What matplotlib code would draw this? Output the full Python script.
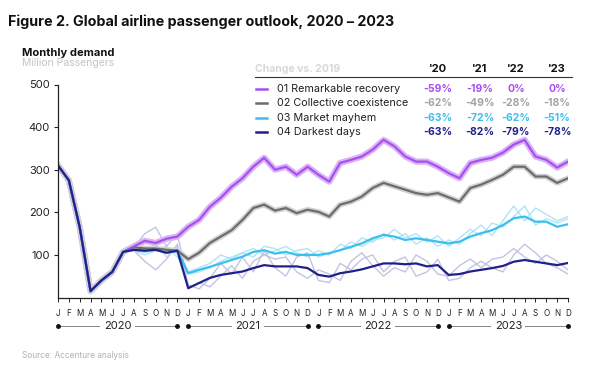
import numpy as np
import matplotlib.pyplot as plt
from matplotlib.lines import Line2D
import matplotlib.transforms as mtransforms

plt.rcParams['font.family'] = ['Inter', 'DejaVu Sans']

months = list("JFMAMJJASOND") * 4
years = ['2020', '2021', '2022', '2023']

# shared start, Jan-Jul 2020
common = [310, 275, 165, 15, 40, 60, 107]

remarkable = common + [120, 133, 128, 138, 143,
                       166, 182, 213, 234, 260, 280, 307, 328, 300, 307, 288, 307,
                       288, 272, 316, 323, 331, 347, 370, 355, 331, 319, 319, 307,
                       292, 280, 316, 323, 328, 340, 359, 370, 331, 323, 305, 319]
collective = common + [118, 115, 115, 112, 110,
                       90, 105, 128, 143, 158, 182, 210, 218, 204, 210, 198, 206,
                       201, 190, 218, 225, 237, 257, 269, 261, 253, 245, 241, 245,
                       235, 225, 257, 265, 276, 288, 307, 307, 284, 284, 269, 280]
mayhem = common + [112, 108, 112, 105, 110,
                   57, 65, 72, 80, 88, 96, 107, 111, 103, 107, 100, 100,
                   100, 104, 111, 119, 127, 139, 147, 143, 135, 139, 135, 131,
                   127, 131, 143, 151, 158, 170, 186, 190, 178, 178, 166, 172]
darkest = common + [112, 110, 112, 105, 110,
                    22, 34, 46, 53, 57, 61, 69, 76, 73, 73, 73, 69,
                    53, 49, 57, 61, 66, 73, 80, 80, 78, 80, 73, 76,
                    53, 55, 61, 65, 69, 74, 84, 88, 84, 80, 76, 81]

# faint alternative runs
mayhem_g1 = common + [115, 110, 125, 95, 120,
                      60, 70, 80, 100, 90, 105, 115, 100, 110, 120, 105, 95,
                      110, 100, 125, 115, 140, 130, 150, 135, 150, 125, 140, 120,
                      135, 125, 150, 170, 145, 180, 215, 180, 210, 195, 180, 190]
mayhem_g2 = common + [110, 100, 110, 120, 95,
                      55, 60, 70, 85, 95, 105, 95, 120, 115, 100, 110, 115,
                      95, 105, 110, 130, 120, 135, 140, 160, 140, 150, 130, 145,
                      120, 140, 160, 145, 175, 165, 190, 215, 170, 185, 175, 185]
darkest_g1 = common + [118, 150, 165, 120, 150,
                       30, 20, 45, 80, 55, 95, 60, 110, 70, 50, 95, 105,
                       40, 35, 80, 65, 90, 100, 60, 85, 95, 50, 60, 90,
                       40, 45, 70, 85, 70, 60, 100, 125, 105, 80, 70, 55]
darkest_g2 = common + [110, 85, 65, 90, 125,
                       20, 35, 25, 50, 75, 45, 85, 100, 90, 95, 60, 45,
                       65, 55, 40, 85, 105, 75, 50, 70, 60, 100, 85, 55,
                       50, 75, 90, 70, 90, 95, 115, 95, 80, 100, 85, 65]

names = ['01 Remarkable recovery', '02 Collective coexistence',
         '03 Market mayhem', '04 Darkest days']
pct = [['-59%', '-19%', '0%', '0%'],
       ['-62%', '-49%', '-28%', '-18%'],
       ['-63%', '-72%', '-62%', '-51%'],
       ['-63%', '-82%', '-79%', '-78%']]

c_purple = '#a94ef0'
c_gray = '#6c6c6c'
c_blue = '#3cbfef'
c_navy = '#20208a'
line_colors = [c_purple, c_gray, c_blue, c_navy]
pct_colors = [c_purple, '#a3a3a3', c_blue, c_navy]

fig = plt.figure(figsize=(6, 3.68), dpi=100)
ax = fig.add_axes([58 / 600, 1 - 297.5 / 368, 510 / 600, 213 / 368])

x = np.arange(48)

# ghosts
for g in (mayhem_g1, mayhem_g2):
    ax.plot(x, g, color='#a6e2f8', lw=1.0, alpha=0.9, solid_joinstyle='round')
for g in (darkest_g1, darkest_g2):
    ax.plot(x, g, color='#bdbde2', lw=1.0, alpha=0.9, solid_joinstyle='round')
ax.plot(x, remarkable, color='#d9b4f8', lw=4.5, solid_joinstyle='round')
ax.plot(x, collective, color='#d2d2d2', lw=4.0, solid_joinstyle='round')

ax.plot(x, collective, color=c_gray, lw=1.6, solid_joinstyle='round')
ax.plot(x, remarkable, color=c_purple, lw=1.6, solid_joinstyle='round')
ax.plot(x, mayhem, color=c_blue, lw=1.6, solid_joinstyle='round')
ax.plot(x, darkest, color=c_navy, lw=1.6, solid_joinstyle='round')

ax.set_xlim(0, 47)
ax.set_ylim(0, 500)
for s in ['top', 'right']:
    ax.spines[s].set_visible(False)
for s in ['left', 'bottom']:
    ax.spines[s].set_linewidth(0.9)
    ax.spines[s].set_color('#222222')
ax.set_yticks([100, 200, 300, 400, 500])
ax.tick_params(axis='y', length=3, width=0.8, labelsize=8, colors='#222222', pad=3)
ax.set_xticks(x)
ax.set_xticklabels(months)
ax.tick_params(axis='x', length=3, width=0.7, labelsize=5.8, colors='#222222', pad=5)

# year row
trans = mtransforms.blended_transform_factory(ax.transData, fig.transFigure)
yr_y = 1 - 326 / 368
for i, yr in enumerate(years):
    a, b = 12 * i, 12 * i + 11
    ax.plot([a, b], [yr_y, yr_y], transform=trans, color='#555555', lw=0.5, clip_on=False)
    ax.plot([a, b], [yr_y, yr_y], transform=trans, color='#111111', ls='none',
            marker='o', ms=2.5, clip_on=False)
    ax.text((a + b) / 2, yr_y, yr, transform=trans, ha='center', va='center',
            fontsize=8, color='#222222',
            bbox=dict(facecolor='white', edgecolor='none', pad=2.5))

# titles
fig.text(8 / 600, 1 - 22 / 368, 'Figure 2. Global airline passenger outlook, 2020 – 2023',
         fontsize=10.3, fontweight='bold', va='center', color='#111111')
fig.text(22 / 600, 1 - 53 / 368, 'Monthly demand', fontsize=8, fontweight='bold',
         va='center', color='#111111')
fig.text(22 / 600, 1 - 63.5 / 368, 'Million Passengers', fontsize=7.5,
         va='center', color='#c4c4c4')
fig.text(22 / 600, 1 - 355 / 368, 'Source: Accenture analysis', fontsize=6,
         va='center', color='#b0b0b0')

# legend table
fig.text(255 / 600, 1 - 69 / 368, 'Change vs. 2019', fontsize=7.5, fontweight='bold',
         va='center', color='#d8d8d8')
col_x = [438, 480, 516, 557]
for cx, yr in zip(col_x, ["'20", "'21", "'22", "'23"]):
    fig.text(cx / 600, 1 - 69 / 368, yr, fontsize=8, fontweight='bold',
             ha='center', va='center', color='#111111')
fig.add_artist(Line2D([255 / 600, 572 / 600], [1 - 77 / 368, 1 - 77 / 368],
                      color='#333333', lw=0.8))
row_y = [89, 103, 118, 132]
for name, lc, pc, vals, ry in zip(names, line_colors, pct_colors, pct, row_y):
    yy = 1 - ry / 368
    fig.add_artist(Line2D([256 / 600, 267 / 600], [yy, yy], color=lc, lw=1.8))
    fig.text(277 / 600, yy, name, fontsize=7.8, va='center', color='#222222')
    for cx, v in zip(col_x, vals):
        fig.text(cx / 600, yy, v, fontsize=7.5, fontweight='bold',
                 ha='center', va='center', color=pc)

fig.savefig('out.png', dpi=100)
